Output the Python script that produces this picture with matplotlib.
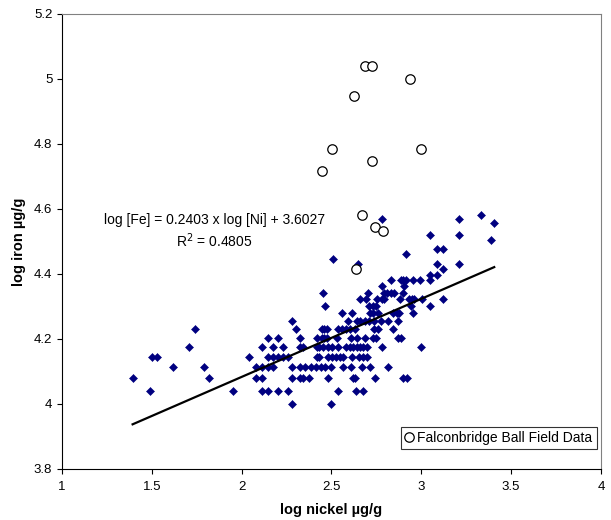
import matplotlib
matplotlib.use("Agg")
import matplotlib.pyplot as plt
from matplotlib.lines import Line2D

plt.rcParams["font.family"] = ["Liberation Sans", "DejaVu Sans"]

# diamonds: log nickel / log iron (ug/g), grouped by iron level
ni_log = [
    2.280, 2.495,
    1.488, 1.953, 2.113, 2.146, 2.204, 2.256, 2.534, 2.636, 2.673,
    1.393, 1.818, 2.080, 2.113, 2.280, 2.325, 2.343, 2.375, 2.482, 2.621, 2.632, 2.745, 2.899, 2.918,
    1.620, 1.792, 2.080, 2.113, 2.146, 2.176, 2.280, 2.325, 2.355, 2.385, 2.412, 2.440, 2.465, 2.495,
    2.566, 2.607, 2.668, 2.714, 2.816,
    1.503, 1.530, 2.041, 2.146, 2.176, 2.204, 2.232, 2.259, 2.417, 2.432, 2.482, 2.501, 2.523, 2.547,
    2.566, 2.616, 2.655, 2.673, 2.696,
    1.707, 2.113, 2.176, 2.232, 2.325, 2.343, 2.417, 2.432, 2.454, 2.482, 2.501, 2.538, 2.580, 2.603,
    2.621, 2.640, 2.658, 2.677, 2.699, 2.781, 2.998,
    2.146, 2.204, 2.325, 2.417, 2.445, 2.460, 2.475, 2.532, 2.607, 2.640, 2.686, 2.729, 2.749, 2.869, 2.886,
    1.740, 2.302, 2.445, 2.460, 2.475, 2.534, 2.556, 2.579, 2.603, 2.631, 2.736, 2.760, 2.844,
    2.280, 2.593, 2.640, 2.658, 2.686, 2.708, 2.735, 2.775, 2.813, 2.869,
    2.560, 2.616, 2.714, 2.732, 2.760, 2.844, 2.863, 2.875, 2.955,
    2.463, 2.708, 2.729, 2.747, 2.942, 3.048,
    2.658, 2.692, 2.755, 2.780, 2.794, 2.881, 2.933, 2.946, 2.960, 3.006, 3.122,
    2.451, 2.705, 2.794, 2.807, 2.831, 2.849, 2.896,
    2.783, 2.903,
    2.831, 2.886, 2.899, 2.914, 2.955, 2.992, 3.048,
    3.048, 3.085,
    3.122,
    2.650, 3.085, 3.211,
    2.510,
    2.914,
    3.085, 3.122,
    3.387,
    3.048, 3.211,
    3.406,
    2.783, 3.211,
    3.330,
]
fe_log = (
    [4.000] * 2 + [4.041] * 9 + [4.079] * 14 + [4.114] * 19 + [4.146] * 19 + [4.176] * 21
    + [4.204] * 15 + [4.230] * 13 + [4.255] * 10 + [4.279] * 9 + [4.301] * 6 + [4.322] * 11
    + [4.342] * 7 + [4.362] * 2 + [4.380] * 7 + [4.398] * 2 + [4.415] * 1 + [4.431] * 3
    + [4.447] * 1 + [4.462] * 1 + [4.477] * 2 + [4.505] * 1 + [4.519] * 2 + [4.556] * 1
    + [4.568] * 2 + [4.580] * 1
)

# Falconbridge Ball Field Data (open circles)
fb_ni = [2.688, 2.727, 2.936, 2.624, 2.505, 2.998, 2.725, 2.446, 2.672, 2.742, 2.786, 2.634]
fb_fe = [5.041, 5.041, 5.000, 4.949, 4.785, 4.785, 4.748, 4.716, 4.580, 4.544, 4.531, 4.415]

# trend line as printed on the chart
slope, intercept, r2 = 0.2403, 3.6027, 0.4805

fig = plt.figure(figsize=(6.11, 5.20), dpi=100)
ax = fig.add_axes([0.1015, 0.0981, 0.882, 0.875])

ax.plot(ni_log, fe_log, ls="none", marker="D", ms=3.9, mfc="#000080", mec="#000080", mew=0.4)
ax.plot(fb_ni, fb_fe, ls="none", marker="o", ms=6.8, mfc="white", mec="black", mew=0.9)

x0, x1 = min(ni_log), max(ni_log)
ax.plot([x0, x1], [slope * x0 + intercept, slope * x1 + intercept], color="black", lw=1.6)

ax.text(1.848, 4.566, f"log [Fe] = {slope} x log [Ni] + {intercept}", ha="center", va="center", fontsize=10)
ax.text(1.848, 4.503, f"R$^2$ = {r2}", ha="center", va="center", fontsize=10)

ax.set_xlim(1, 4)
ax.set_ylim(3.8, 5.2)
ax.set_xticks([1, 1.5, 2, 2.5, 3, 3.5, 4])
ax.set_xticklabels(["1", "1.5", "2", "2.5", "3", "3.5", "4"])
ax.set_yticks([3.8, 4.0, 4.2, 4.4, 4.6, 4.8, 5.0, 5.2])
ax.set_yticklabels(["3.8", "4", "4.2", "4.4", "4.6", "4.8", "5", "5.2"])
ax.tick_params(direction="out", length=3.5, width=0.8, labelsize=9.5, pad=3.5)
ax.tick_params(axis="x", pad=5)
ax.set_xlabel("log nickel µg/g", fontsize=10.5, fontweight="bold", labelpad=7)
ax.set_ylabel("log iron µg/g", fontsize=10.5, fontweight="bold", labelpad=6)

for side in ["top", "right"]:
    ax.spines[side].set_color("#808080")
for side in ["left", "bottom"]:
    ax.spines[side].set_color("black")

handle = Line2D([], [], ls="none", marker="o", ms=6.8, mfc="white", mec="black", mew=0.9)
leg = ax.legend([handle], ["Falconbridge Ball Field Data"], loc="lower right",
                bbox_to_anchor=(0.992, 0.044), fontsize=10, frameon=True, fancybox=False,
                handlelength=0.6, handletextpad=0.3, borderpad=0.3, borderaxespad=0)
leg.get_frame().set_edgecolor("black")
leg.get_frame().set_linewidth(0.8)

fig.savefig("out.png", dpi=100)
